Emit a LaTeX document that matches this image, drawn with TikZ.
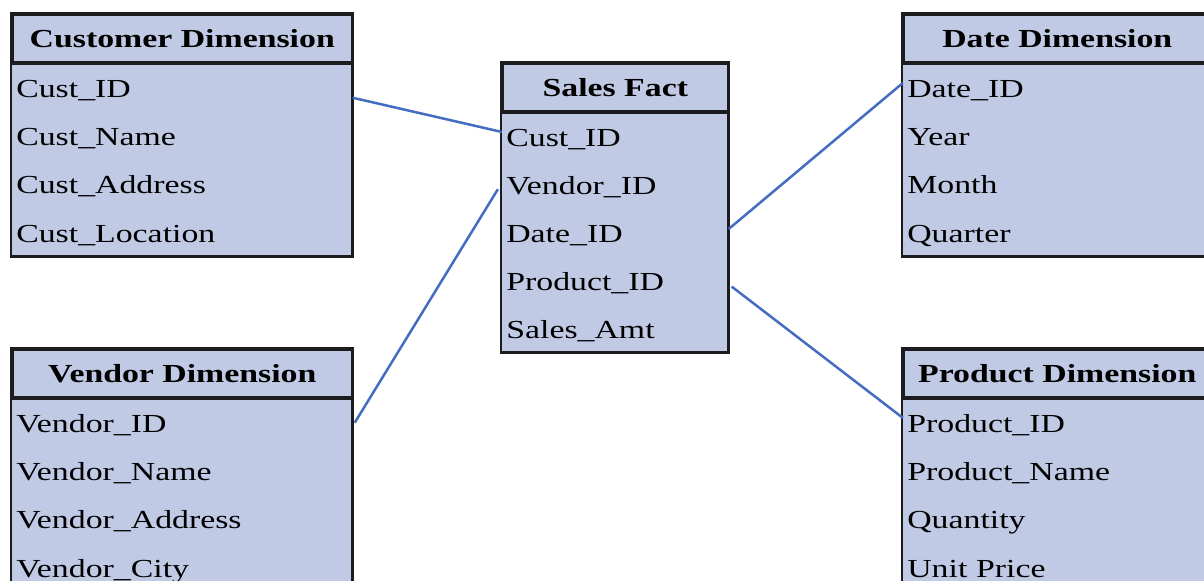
\documentclass[tikz,border=0pt]{standalone}
\usepackage{fontspec}
\setmainfont[FakeStretch=1.3]{Liberation Serif}
\usepackage{xcolor}
\usepackage{tikz}
\usetikzlibrary{positioning}
\definecolor{tablefill}{RGB}{192,202,228}
\definecolor{tableline}{RGB}{28,28,30}
\definecolor{linkblue}{RGB}{68,108,192}
\tikzstyle{headbox} = [rectangle, fill=tablefill, draw=tableline, line width=1.3pt,
minimum height=24pt, inner sep=0pt, font=\fontsize{13}{15}\selectfont\bfseries,
text height=0.95em, text depth=0pt]
\tikzstyle{rowbox} = [rectangle, fill=tablefill, draw=tablefill, line width=0.4pt,
inner xsep=2pt, inner ysep=0pt,
minimum height=23.75pt, align=left, font=\fontsize{13}{15}\selectfont,
text height=0.95em, text depth=0pt]
\tikzstyle{frame} = [draw=tableline, line width=1.4pt]
\tikzstyle{link} = [draw=linkblue, line width=1.25pt]

\begin{document}
\begin{tikzpicture}[x=0.5pt, y=-0.5pt, node distance=0pt]
    \useasboundingbox (0,0) rectangle (1204,581);
    \clip (0,0) rectangle (1204,581);

    % customer dimension
    \node (ch) [headbox, minimum width=170pt, anchor=north west] at (11,13) {Customer Dimension};
    \node (c1) [rowbox, text width=166pt, below=of ch] {Cust\_ID};
    \node (c2) [rowbox, text width=166pt, below=of c1] {Cust\_Name};
    \node (c3) [rowbox, text width=166pt, below=of c2] {Cust\_Address};
    \node (c4) [rowbox, text width=166pt, below=of c3] {Cust\_Location};
    \draw[frame] (ch.north west) rectangle (c4.south east);
    \draw[frame] (ch.south west) -- (ch.south east);

    % vendor dimension
    \node (vh) [headbox, minimum width=170pt, anchor=north west] at (11,348) {Vendor Dimension};
    \node (v1) [rowbox, text width=166pt, below=of vh] {Vendor\_ID};
    \node (v2) [rowbox, text width=166pt, below=of v1] {Vendor\_Name};
    \node (v3) [rowbox, text width=166pt, below=of v2] {Vendor\_Address};
    \node (v4) [rowbox, text width=166pt, below=of v3] {Vendor\_City};
    \draw[frame] (vh.north west) rectangle (v4.south east);
    \draw[frame] (vh.south west) -- (vh.south east);

    % sales fact
    \node (fh) [headbox, minimum width=113pt, anchor=north west] at (501,62) {Sales Fact};
    \node (f1) [rowbox, text width=109pt, minimum height=23.6pt, below=of fh] {Cust\_ID};
    \node (f2) [rowbox, text width=109pt, minimum height=23.6pt, below=of f1] {Vendor\_ID};
    \node (f3) [rowbox, text width=109pt, minimum height=23.6pt, below=of f2] {Date\_ID};
    \node (f4) [rowbox, text width=109pt, minimum height=23.6pt, below=of f3] {Product\_ID};
    \node (f5) [rowbox, text width=109pt, minimum height=23.6pt, below=of f4] {Sales\_Amt};
    \draw[frame] (fh.north west) rectangle (f5.south east);
    \draw[frame] (fh.south west) -- (fh.south east);

    % date dimension
    \node (dh) [headbox, minimum width=154pt, anchor=north west] at (902,13) {Date Dimension};
    \node (d1) [rowbox, text width=150pt, below=of dh] {Date\_ID};
    \node (d2) [rowbox, text width=150pt, below=of d1] {Year};
    \node (d3) [rowbox, text width=150pt, below=of d2] {Month};
    \node (d4) [rowbox, text width=150pt, below=of d3] {Quarter};
    \draw[frame] (dh.north west) rectangle (d4.south east);
    \draw[frame] (dh.south west) -- (dh.south east);

    % product dimension
    \node (ph) [headbox, minimum width=154pt, anchor=north west] at (902,348) {Product Dimension};
    \node (p1) [rowbox, text width=150pt, below=of ph] {Product\_ID};
    \node (p2) [rowbox, text width=150pt, below=of p1] {Product\_Name};
    \node (p3) [rowbox, text width=150pt, below=of p2] {Quantity};
    \node (p4) [rowbox, text width=150pt, below=of p3] {Unit Price};
    \draw[frame] (ph.north west) rectangle (p4.south east);
    \draw[frame] (ph.south west) -- (ph.south east);

    \draw[link] ([yshift=-5pt]c1.east) -- ([yshift=2.3pt]f1.west);
    \draw[link] ([xshift=1pt]v1.east) -- ([xshift=-2pt, yshift=-2.3pt]f2.west);
    \draw[link] ([yshift=1.8pt]f3.east) -- ([yshift=2.4pt]d1.west);
    \draw[link] ([xshift=1.5pt, yshift=-3pt]f4.east) -- ([yshift=2.4pt]p1.west);
\end{tikzpicture}
\end{document}
